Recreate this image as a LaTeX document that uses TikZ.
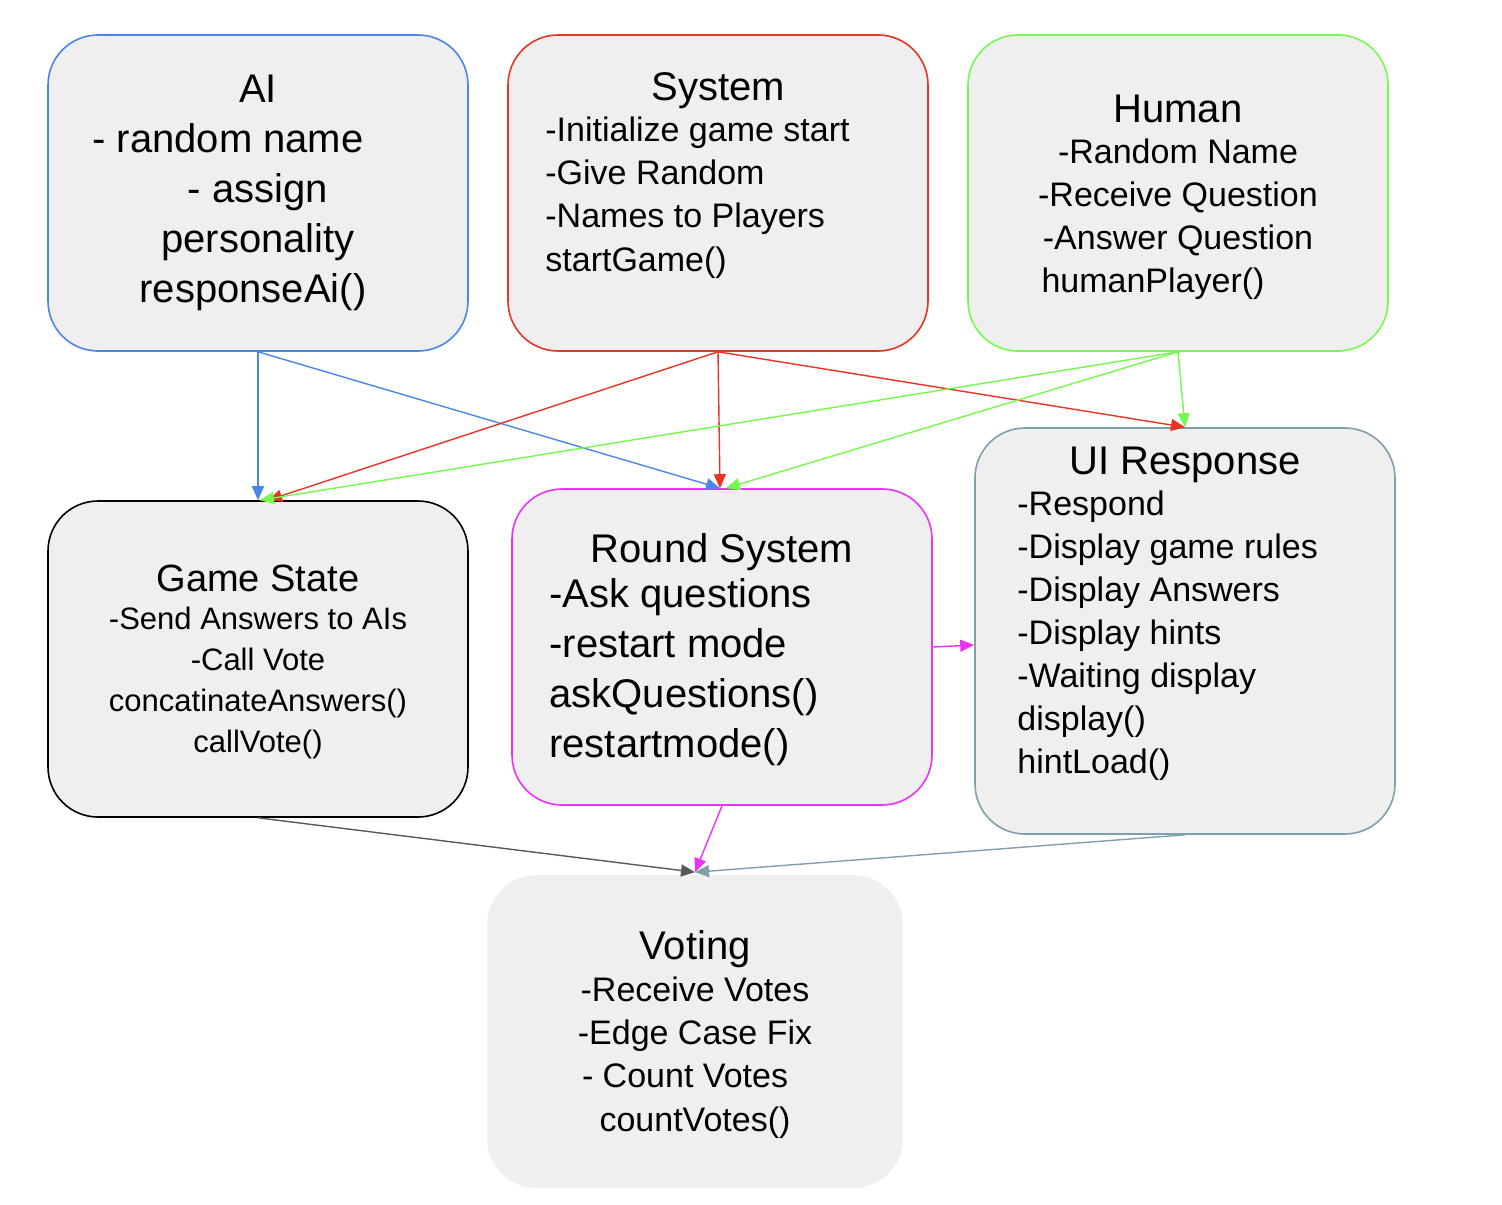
\documentclass[tikz,border=0pt]{standalone}
\usepackage{fontspec}
\setmainfont{Liberation Sans}
\usetikzlibrary{arrows.meta}
\definecolor{bx}{HTML}{EFEFEF}
\definecolor{cblue}{HTML}{4A86E8}
\definecolor{cred}{HTML}{EA3323}
\definecolor{cgreen}{HTML}{75F94C}
\definecolor{cmag}{HTML}{EA33F7}
\definecolor{cgray}{HTML}{7FA0AB}
\definecolor{cdark}{HTML}{595959}
\tikzset{
 box/.style={rectangle,rounded corners=25pt,fill=bx,line width=0.8pt,minimum width=210pt,minimum height=158pt,inner sep=0pt},
 lbl/.style={inner sep=0pt,font=#1},
 conn/.style={line width=0.7pt,-{Triangle[length=7pt,width=6pt]}},
}
\begin{document}
\begin{tikzpicture}[x=0.5pt,y=-0.5pt]
\useasboundingbox (0,0) rectangle (1502,1204);
% boxes
\node[box,draw=cblue] (ai) at (258,193) {};
\node[box,draw=cred] (sys) at (718,193) {};
\node[box,draw=cgreen] (hum) at (1178,193) {};
\node[box,draw=black] (gs) at (258,659) {};
\node[box,draw=cmag] (rs) at (722,647) {};
\node[box,draw=cgray,minimum width=210pt,minimum height=203pt] (ui) at (1185,631) {};
\node[box,minimum width=208pt,minimum height=156.5pt] (vot) at (695,1031.5) {};
% AI text
\node[lbl=\fontsize{20}{25}\selectfont,align=center,anchor=north] (tai) at (258,75)
 {AI\\\hspace*{-30pt}- random name\\- assign\\personality\\\hspace*{-5pt}responseAi()};
% System
\node[lbl=\fontsize{20}{24}\selectfont,anchor=base] (tsys) at (718,100) {System};
\node[lbl=\fontsize{17}{21.7}\selectfont,align=left,anchor=north west] (bsys) at (545,116)
 {-Initialize game start\\-Give Random\\-Names to Players\\startGame()};
% Human
\node[lbl=\fontsize{20}{24}\selectfont,anchor=base] (thum) at (1178,122) {Human};
\node[lbl=\fontsize{17}{21.6}\selectfont,align=center,anchor=north] (bhum) at (1178,138)
 {-Random Name\\-Receive Question\\-Answer Question\\\hspace*{-25pt}humanPlayer()};
% Game State
\node[lbl=\fontsize{19}{24}\selectfont,anchor=base] (tgs) at (258,591) {Game State};
\node[lbl=\fontsize{15.5}{20.5}\selectfont,align=center,anchor=north] (bgs) at (258,607)
 {-Send Answers to AIs\\-Call Vote\\concatinateAnswers()\\callVote()};
% Round System
\node[lbl=\fontsize{20}{25}\selectfont,anchor=base] (trs) at (722,562) {Round System};
\node[lbl=\fontsize{20}{25}\selectfont,align=left,anchor=north west] (brs) at (549,578)
 {-Ask questions\\-restart mode\\askQuestions()\\restartmode()};
% UI Response
\node[lbl=\fontsize{20}{24}\selectfont,anchor=base] (tui) at (1185,474) {UI Response};
\node[lbl=\fontsize{17}{21.5}\selectfont,align=left,anchor=north west] (bui) at (1017,490)
 {-Respond\\-Display game rules\\-Display Answers\\-Display hints\\-Waiting display\\display()\\hintLoad()};
% Voting
\node[lbl=\fontsize{20}{24}\selectfont,anchor=base] (tvot) at (695,959) {Voting};
\node[lbl=\fontsize{17}{21.7}\selectfont,align=center,anchor=north] (bvot) at (695,976)
 {-Receive Votes\\-Edge Case Fix\\\hspace*{-10pt}- Count Votes\\countVotes()};
% connectors
\draw[conn,cblue] (ai.south) -- (gs.north);
\draw[conn,cblue] (ai.south) -- ([xshift=-1pt]rs.north);
\draw[conn,cred] (sys.south) -- ([xshift=5pt]gs.north);
\draw[conn,cred] (sys.south) -- ([xshift=-1pt]rs.north);
\draw[conn,cred] (sys.south) -- (ui.north);
\draw[conn,cgreen] (hum.south) -- ([xshift=1pt]gs.north);
\draw[conn,cgreen] (hum.south) -- ([xshift=2pt]rs.north);
\draw[conn,cgreen] (hum.south) -- (ui.north);
\draw[conn,cmag] (rs.east) -- ([yshift=-7pt]ui.west);
\draw[conn,cdark] (gs.south) -- ([yshift=1pt]vot.north);
\draw[conn,cmag] (rs.south) -- ([yshift=1pt]vot.north);
\draw[conn,cgray] (ui.south) -- ([yshift=1pt]vot.north);
\end{tikzpicture}
\end{document}
